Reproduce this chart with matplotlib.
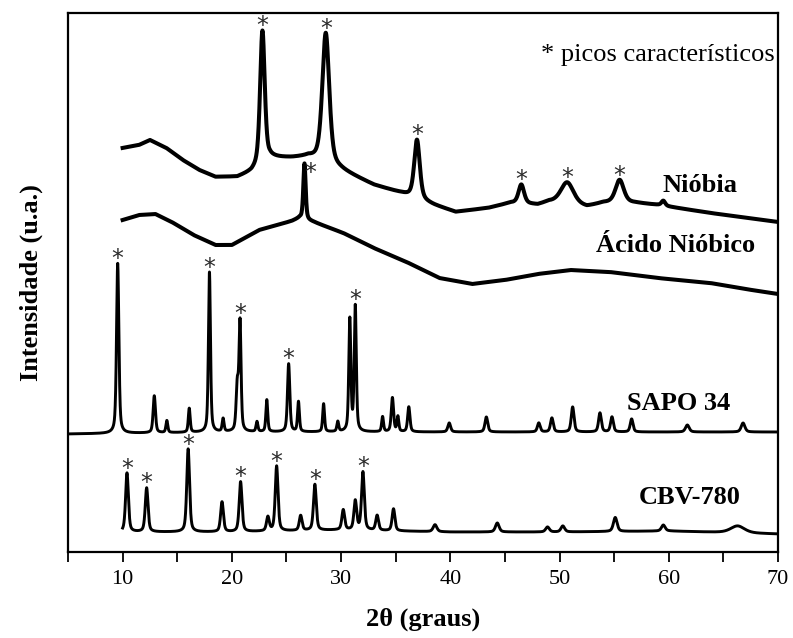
import numpy as np
import matplotlib
matplotlib.use('Agg')
import matplotlib.pyplot as plt
from matplotlib.ticker import MultipleLocator

plt.rcParams['font.family'] = ['Liberation Serif', 'DejaVu Serif']

# --- Nióbia -------------------------------------------------------------
nb_bg_2t = [10.0, 11.5, 12.5, 14.0, 15.5, 17.0, 18.5, 20.5, 21.8, 23.5, 25.5,
            27.0, 30.0, 33.0, 35.5, 38.5, 40.5, 43.5, 45.5, 48.0, 49.0, 52.5,
            54.0, 57.0, 59.0, 63.8, 70.0]
nb_bg_i = [404, 407, 412, 404, 392, 382, 375, 375, 380, 394, 394,
           395, 382, 367, 359, 347, 340, 344, 349, 347, 350, 345,
           349, 349, 347, 339, 330]
nb_pk_2t = [22.8, 28.6, 36.95, 46.5, 50.7, 55.5, 59.5]
nb_pk_i = [133, 131, 59, 19, 22, 23, 5]
nb_pk_w = [0.5, 0.75, 0.6, 0.6, 1.4, 0.9, 0.4]
nb_star = [22.8, 28.6, 36.95, 46.5, 50.7, 55.5]

# --- Ácido Nióbico ------------------------------------------------------
an_bg_2t = [10.0, 11.5, 13.0, 14.5, 16.5, 18.5, 20.0, 22.5, 25.5, 26.2,
            27.5, 30.2, 33.0, 36.0, 39.0, 42.0, 45.0, 48.0, 51.0, 54.6,
            59.0, 63.8, 67.0, 70.0]
an_bg_i = [332, 337, 338, 330, 317, 307, 307, 322, 331, 334,
           330, 319, 304, 290, 274, 268, 272, 278, 282, 280,
           274, 269, 263, 258]
an_pk_2t = [26.65]
an_pk_i = [56]
an_pk_w = [0.25]
an_star = [26.65]

# --- SAPO 34 ------------------------------------------------------------
sp_bg_2t = [5.0, 20.0, 40.0, 70.0]
sp_bg_i = [118, 120, 120, 120]
sp_pk_2t = [9.55, 12.9, 14.05, 16.1, 17.95, 19.2, 20.5, 20.75, 22.3, 23.2,
            25.2, 26.1, 28.4, 29.7, 30.8, 31.3, 33.8, 34.7, 35.2, 36.2,
            39.9, 43.3, 48.1, 49.3, 51.2, 53.7, 54.8, 56.6, 61.7, 66.8]
sp_pk_i = [170, 37, 12, 24, 160, 13, 45, 108, 10, 32,
           68, 30, 28, 10, 112, 125, 15, 34, 15, 25,
           9, 15, 9, 14, 25, 19, 15, 13, 7, 9]
sp_pk_w = [0.25, 0.25, 0.2, 0.2, 0.22, 0.2, 0.25, 0.22, 0.2, 0.2,
           0.25, 0.2, 0.2, 0.2, 0.22, 0.22, 0.2, 0.25, 0.2, 0.25,
           0.3, 0.3, 0.3, 0.3, 0.3, 0.3, 0.3, 0.3, 0.4, 0.4]
sp_star = [9.55, 17.95, 20.75, 25.2, 31.3]

# --- CBV-780 ------------------------------------------------------------
cb_bg_2t = [10.0, 20.0, 30.0, 40.0, 50.0, 60.0, 70.0]
cb_bg_i = [20, 20, 22, 20, 20, 21, 18]
cb_pk_2t = [10.4, 12.2, 16.0, 19.1, 20.8, 23.3, 24.1, 26.3, 27.6, 30.2,
            31.3, 32.0, 33.3, 34.8, 38.6, 44.3, 48.9, 50.3, 55.1, 59.5, 66.3]
cb_pk_i = [59, 44, 83, 30, 50, 14, 65, 15, 46, 20,
           29, 58, 15, 22, 7, 9, 5, 6, 14, 6, 7]
cb_pk_w = [0.3, 0.3, 0.3, 0.3, 0.3, 0.3, 0.3, 0.3, 0.3, 0.3,
           0.3, 0.3, 0.3, 0.3, 0.4, 0.4, 0.4, 0.4, 0.4, 0.4, 1.5]
cb_star = [10.4, 12.2, 16.0, 20.8, 24.1, 27.6, 32.0]


def pattern(x, bg_2t, bg_i, pk_2t, pk_i, pk_w):
    # background plus pseudo-Voigt reflections
    y = np.interp(x, bg_2t, bg_i).astype(float)
    for p, a, w in zip(pk_2t, pk_i, pk_w):
        u = (x - p) / w
        y += a * (0.5 * np.exp(-4 * np.log(2) * u**2) + 0.5 / (1 + 4 * u**2))
    return y


fig = plt.figure(figsize=(7.93, 6.38), dpi=100)
ax = fig.add_axes([68 / 793, 86 / 638, 710 / 793, 539 / 638])

traces = [
    (10.0, nb_bg_2t, nb_bg_i, nb_pk_2t, nb_pk_i, nb_pk_w, nb_star, 2.9),
    (10.0, an_bg_2t, an_bg_i, an_pk_2t, an_pk_i, an_pk_w, an_star, 2.9),
    (5.0, sp_bg_2t, sp_bg_i, sp_pk_2t, sp_pk_i, sp_pk_w, sp_star, 2.1),
    (10.0, cb_bg_2t, cb_bg_i, cb_pk_2t, cb_pk_i, cb_pk_w, cb_star, 2.1),
]

for x0, bx, bi, px, pi, pw, stars, lw in traces:
    x = np.arange(x0, 70.001, 0.01)
    y = pattern(x, bx, bi, px, pi, pw)
    ax.plot(x, y, color='black', lw=lw, solid_joinstyle='round')
    for s in stars:
        ys = pattern(np.array([s]), bx, bi, px, pi, pw)[0]
        dx = 4 if s == 26.65 else 0
        dy = -12 if s == 26.65 else -2
        ax.annotate('*', xy=(s, ys), xytext=(dx, dy), textcoords='offset points',
                    ha='center', va='baseline', fontsize=17, color='#2b2b2b',
                    family='DejaVu Sans')

ax.text(62.9, 367, 'Nióbia', fontsize=19, fontweight='bold', ha='center', va='center')
ax.text(60.6, 306, 'Ácido Nióbico', fontsize=19, fontweight='bold', ha='center', va='center')
ax.text(60.9, 149, 'SAPO 34', fontsize=19, fontweight='bold', ha='center', va='center')
ax.text(61.9, 55, 'CBV-780', fontsize=19, fontweight='bold', ha='center', va='center')
ax.text(69.7, 497, '* picos característicos', fontsize=19, ha='right', va='center')

ax.set_xlim(5, 70)
ax.set_ylim(0, 539)
ax.set_yticks([])
ax.xaxis.set_major_locator(MultipleLocator(10))
ax.xaxis.set_minor_locator(MultipleLocator(5))
ax.tick_params(axis='x', which='both', direction='out', length=7, width=1.3,
               labelsize=16, pad=6)
for sp in ax.spines.values():
    sp.set_linewidth(1.6)

ax.set_xlabel('2θ (graus)', fontsize=19, fontweight='bold', labelpad=13)
ax.set_ylabel('Intensidade (u.a.)', fontsize=19, fontweight='bold', labelpad=18)

plt.savefig('out.png', dpi=100)
